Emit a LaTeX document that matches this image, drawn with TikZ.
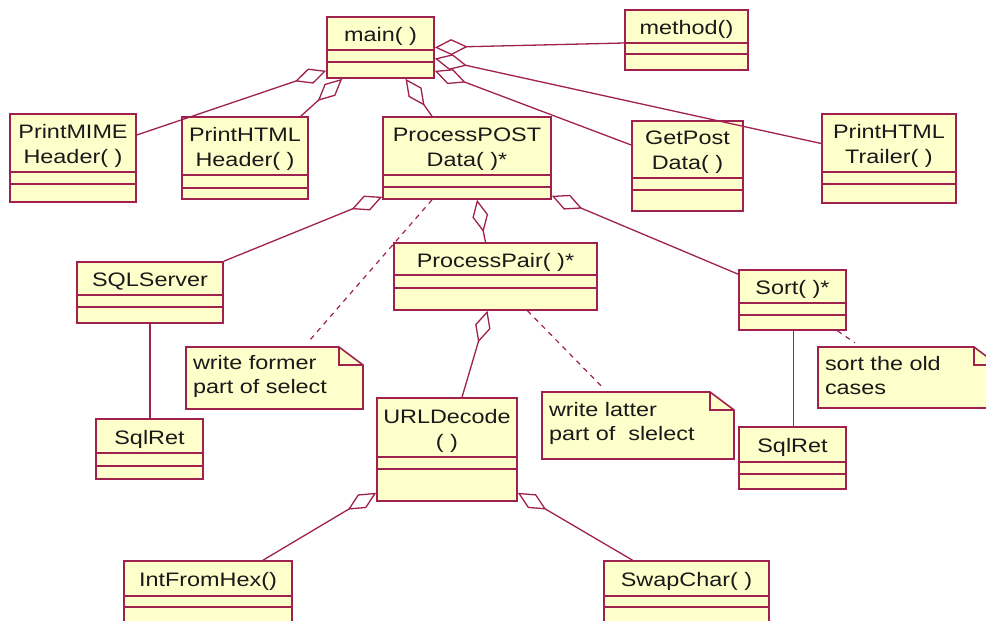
\documentclass[tikz,border=0pt]{standalone}
\usepackage{fontspec}
\newfontfamily\umlfont{Liberation Sans}[FakeStretch=1.2]
\usetikzlibrary{arrows.meta,calc}
\definecolor{umlline}{RGB}{160,32,80}
\definecolor{umlfill}{RGB}{255,255,204}
\definecolor{umltext}{RGB}{25,25,25}
\tikzset{
  cls/.style={draw=umlline, fill=umlfill, line width=1.6bp, inner sep=0pt, rectangle},
  clsline/.style={draw=umlline, line width=1.6bp},
  ctext/.style={font=\umlfont\fontsize{19.5bp}{25bp}\selectfont, text=umltext, align=center, inner sep=0pt},
  agg/.style={draw=umlline, line width=1.3bp, -{Diamond[length=33bp,width=16bp,fill=white,line width=1.3bp]}},
  assoc/.style={draw=umlline, line width=1.5bp},
  notelink/.style={draw=umlline, line width=1.2bp, dash pattern=on 5bp off 5bp},
  notetext/.style={font=\umlfont\fontsize{19.5bp}{24bp}\selectfont, text=umltext, align=left, inner sep=0pt},
  noteline/.style={draw=umlline, fill=umlfill, line width=1.6bp, line join=miter}
}
% name, x1, y1, x2, y2, first line, second line, text
\newcommand\umlclass[8]{%
  \pgfmathsetmacro\ucx{(#2+#4)/2}%
  \pgfmathsetmacro\ucy{(#3+#5)/2}%
  \pgfmathsetmacro\ucw{#4-#2}%
  \pgfmathsetmacro\uch{#5-#3}%
  \pgfmathsetmacro\uty{(#3+#6)/2+3}%
  \node[cls, minimum width=\ucw bp, minimum height=\uch bp] (#1) at (\ucx,\ucy) {};
  \node[ctext] (#1-name) at (\ucx,\uty) {#8};
  \draw[clsline] (#2,#6) -- (#4,#6) (#2,#7) -- (#4,#7);
}
% name, x1, y1, x2, y2, text
\newcommand\umlnote[6]{%
  \pgfmathsetmacro\ncx{(#2+#4)/2}%
  \pgfmathsetmacro\ncy{(#3+#5)/2-2}%
  \pgfmathsetmacro\ncw{#4-#2}%
  \pgfmathsetmacro\nch{#5-#3}%
  \pgfmathsetmacro\ntw{#4-#2-14}%
  \path[noteline] (#2,#3) -- (#4-24,#3) -- (#4,#3+18) -- (#4,#5) -- (#2,#5) -- cycle;
  \draw[noteline, fill=none] (#4-24,#3) |- (#4,#3+18);
  \node[notetext, minimum width=\ncw bp, minimum height=\nch bp, text width=\ntw bp] (#1) at (\ncx,\ncy) {#6};
}
\begin{document}
\begin{tikzpicture}[x=1bp, y=-1bp]
\useasboundingbox (0,0) rectangle (986,621);
\fill[white] (0,0) rectangle (986,621);
\clip (0,0) rectangle (986,621);

\umlclass{main}{327}{17}{434}{78}{50}{62}{main( )}
\umlclass{method}{625}{10}{748}{70}{43}{54}{method()}
\umlclass{printmime}{10}{114}{136}{202}{172}{184}{PrintMIME\\Header( )}
\umlclass{printhtmlh}{182}{117}{308}{199}{175}{188}{PrintHTML\\Header( )}
\umlclass{processpost}{383}{117}{551}{199}{175}{187}{ProcessPOST\\Data( )*}
\umlclass{getpost}{632}{121}{743}{211}{178}{190}{GetPost\\Data( )}
\umlclass{trailer}{822}{114}{956}{203}{172}{184}{PrintHTML\\Trailer( )}
\umlclass{sqlserver}{77}{262}{223}{323}{295}{307}{SQLServer}
\umlclass{sqlretA}{96}{419}{203}{479}{453}{466}{SqlRet}
\umlclass{processpair}{394}{243}{597}{310}{275}{288}{ProcessPair( )*}
\umlclass{urldecode}{377}{398}{517}{501}{457}{469}{URLDecode\\( )}
\umlclass{sort}{739}{270}{846}{330}{303}{315}{Sort( )*}
\umlclass{sqlretB}{739}{427}{846}{489}{462}{474}{SqlRet}
\umlclass{intfromhex}{124}{561}{292}{640}{596}{607}{IntFromHex()}
\umlclass{swapchar}{604}{561}{769}{640}{596}{607}{SwapChar( )}

\umlnote{noteA}{186}{347}{363}{409}{write former\\part of select}
\umlnote{noteB}{542}{392}{734}{459}{write latter\\part of~ slelect}
\umlnote{noteC}{818}{347}{998}{408}{sort the old\\cases}

% aggregations to main
\draw[agg] ($(method.west)+(0,3)$) -- (main.east);
\draw[agg] ($(trailer.west)+(0,-15)$) -- ($(main.east)+(0,11)$);
\draw[agg] ($(getpost.west)+(0,-21)$) -- ($(main.south east)+(0,-8)$);
\draw[agg] ($(printmime.east)+(0,-23)$) -- ($(main.south west)+(0,-8)$);
\draw[agg] ($(printhtmlh.north east)+(-8,0)$) -- ($(main.south west)+(16,0)$);
\draw[agg] ($(processpost.north)+(-35,0)$) -- ($(main.south)+(25,0)$);

% aggregations to ProcessPOST
\draw[agg] (sqlserver.north east) -- ($(processpost.south west)+(0,-3)$);
\draw[agg] ($(processpair.north)+(-10,0)$) -- ($(processpost.south)+(10,0)$);
\draw[agg] ($(sort.north west)+(0,5)$) -- ($(processpost.south east)+(0,-4)$);
\draw[notelink] ($(processpost.south)+(-35,0)$) -- ($(noteA.north)+(33,-2)$);

% ProcessPair
\draw[agg] ($(urldecode.north)+(15,0)$) -- ($(processpair.south)+(-8,0)$);
\draw[notelink] ($(processpair.south)+(32,0)$) -- ($(noteB.north)+(-35,-2)$);

% Sort
\draw[assoc] ($(sort.south)+(1,0)$) -- ($(sqlretB.north)+(1,0)$);
\draw[notelink] ($(sort.south)+(45,0)$) -- ($(noteC.north west)+(37,-2)$);

% SQLServer
\draw[assoc] (sqlserver.south) -- (sqlserver.south |- sqlretA.north);

% URLDecode
\draw[agg] ($(intfromhex.north)+(55,0)$) -- ($(urldecode.south west)+(0,-9)$);
\draw[agg] ($(swapchar.north)+(-54,0)$) -- ($(urldecode.south east)+(0,-9)$);
\end{tikzpicture}
\end{document}
